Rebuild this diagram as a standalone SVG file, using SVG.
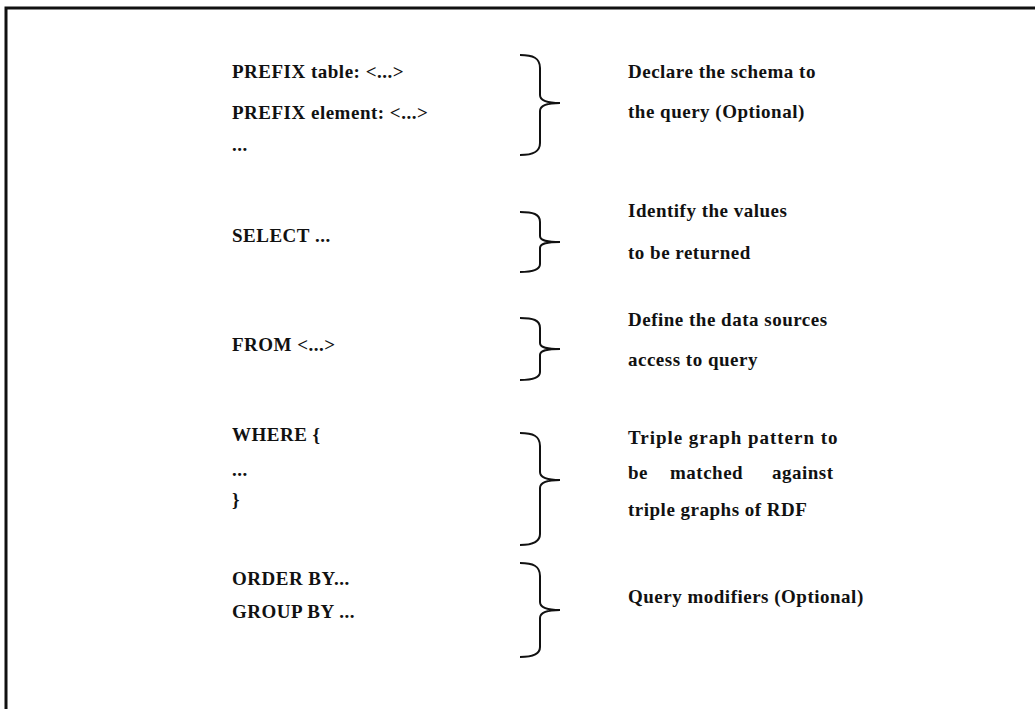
<svg xmlns="http://www.w3.org/2000/svg" width="1035" height="709" viewBox="0 0 1035 709">
<style>
text{font-family:"Liberation Serif","Times New Roman",serif;font-size:19px;font-weight:bold;fill:#111;letter-spacing:0.5px}
.brace{fill:none;stroke:#111;stroke-width:2}
.frame{fill:none;stroke:#111;stroke-width:3}
</style>
<rect width="1035" height="709" fill="#fff"/>
<path class="frame" d="M6,709 L6,8 L1035,8"/>
<g id="prefix">
<text x="232" y="78">PREFIX table: &lt;...&gt;</text>
<text x="232" y="119">PREFIX element: &lt;...&gt;</text>
<text x="232" y="151">...</text>
</g>
<g id="select"><text x="232" y="242">SELECT ...</text></g>
<g id="from"><text x="232" y="351">FROM &lt;...&gt;</text></g>
<g id="where">
<text x="232" y="441">WHERE {</text>
<text x="232" y="476">...</text>
<text x="232" y="506">}</text>
</g>
<g id="order">
<text x="232" y="585">ORDER BY...</text>
<text x="232" y="618">GROUP BY ...</text>
</g>
<g id="desc1">
<text x="628" y="78">Declare the schema to</text>
<text x="628" y="118">the query (Optional)</text>
</g>
<g id="desc2">
<text x="628" y="217">Identify the values</text>
<text x="628" y="259">to be returned</text>
</g>
<g id="desc3">
<text x="628" y="326">Define the data sources</text>
<text x="628" y="366">access to query</text>
</g>
<g id="desc4">
<text x="628" y="444" textLength="210" lengthAdjust="spacing">Triple graph pattern to</text>
<text y="479"><tspan x="628">be</tspan><tspan x="670">matched</tspan><tspan x="772">against</tspan></text>
<text x="628" y="516">triple graphs of RDF</text>
</g>
<g id="desc5"><text x="628" y="603">Query modifiers (Optional)</text></g>
<g id="connectors">
<path class="brace" d="M520,55 C533,55 540,58 540,68 L540,95 C540,100 545,103 560,103 C545,103 540,106 540,111 L540,143 C540,152 533,155 520,155"/>
<path class="brace" d="M520,212 C533,212 540,214 540,222 L540,236 C540,240 545,242 560,242 C545,242 540,244 540,248 L540,264 C540,270 533,272 520,272"/>
<path class="brace" d="M520,318 C533,318 540,320 540,328 L540,343 C540,347 545,349 560,349 C545,349 540,351 540,355 L540,372 C540,378 533,380 520,380"/>
<path class="brace" d="M520,433 C533,433 540,436 540,446 L540,472 C540,477 545,480 560,480 C545,480 540,483 540,488 L540,534 C540,542 533,545 520,545"/>
<path class="brace" d="M520,563 C533,563 540,566 540,576 L540,602 C540,607 545,610 560,610 C545,610 540,613 540,618 L540,647 C540,654 533,657 520,657"/>
</g>
</svg>
